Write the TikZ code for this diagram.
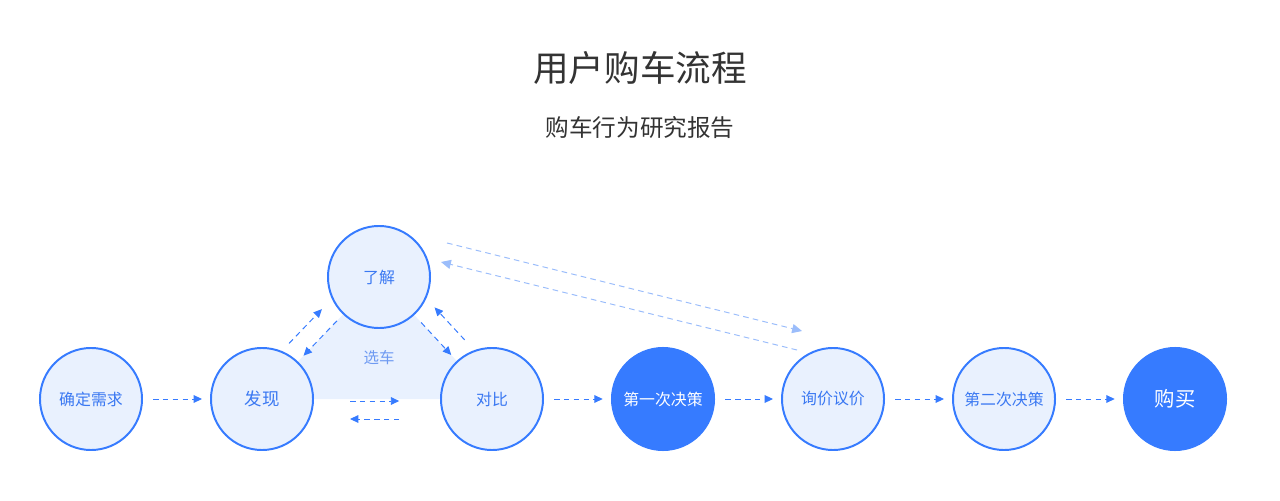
\documentclass[tikz,border=0pt]{standalone}
\usepackage{fontspec}
\setmainfont{Noto Sans CJK SC}
\usepackage{tikz}
\usetikzlibrary{arrows.meta,backgrounds}
\definecolor{mainblue}{HTML}{367BFF}
\definecolor{lightfill}{HTML}{E9F1FE}
\definecolor{textblue}{HTML}{3A78F2}
\definecolor{paleblue}{HTML}{9BBDFB}
\definecolor{labelblue}{HTML}{6E9AF2}
\definecolor{titlegray}{HTML}{333333}
\tikzset{
  stage/.style={circle,draw=mainblue,line width=1.4pt,fill=lightfill,text=textblue,minimum size=2.55cm,inner sep=0pt,font=\fontsize{11.3}{13}\selectfont},
  decide/.style={circle,fill=mainblue,text=white,minimum size=2.6cm,inner sep=0pt,font=\fontsize{11.3}{13}\selectfont},
  flow/.style={draw=mainblue,line width=0.7pt,dash pattern=on 4pt off 3pt,-{Triangle[length=6pt,width=5.5pt]}},
  farflow/.style={draw=paleblue,line width=0.7pt,dash pattern=on 4pt off 3pt,-{Triangle[length=7pt,width=6.5pt]}}
}
\begin{document}
\begin{tikzpicture}[line cap=butt,line join=round,x=0.025cm,y=0.025cm]
  \useasboundingbox (0,0) rectangle (1280,500);
  % titles
  \node[text=titlegray,font=\fontsize{25.3}{30}\selectfont] (title) at (640,432) {用户购车流程};
  \node[text=titlegray,font=\fontsize{16.8}{20}\selectfont] (subtitle) at (640,372) {购车行为研究报告};
  % stages
  \node[stage] (need) at (91,101) {确定需求};
  \node[stage,font=\fontsize{12.4}{14}\selectfont] (find) at (262,101) {发现};
  \node[stage] (know) at (379,223) {了解};
  \node[stage] (compare) at (492,101) {对比};
  \node[decide] (first) at (663,101) {第一次决策};
  \node[stage] (price) at (833,101) {询价议价};
  \node[stage] (second) at (1004,101) {第二次决策};
  \node[decide,font=\fontsize{14.5}{17}\selectfont] (buy) at (1175,101) {购买};
  % selection area
  \begin{scope}[on background layer]
    \fill[lightfill] (find.center) -- (know.center) -- (compare.center) -- cycle;
  \end{scope}
  \node[text=labelblue,font=\fontsize{11}{13}\selectfont] (select) at (379,142) {选车};
  % main flow
  \draw[flow,shorten <=0.25cm,shorten >=0.2cm] (need) -- (find);
  \draw[flow,shorten <=0.25cm,shorten >=0.2cm] (compare) -- (first);
  \draw[flow,shorten <=0.25cm,shorten >=0.2cm] (first) -- (price);
  \draw[flow,shorten <=0.25cm,shorten >=0.2cm] (price) -- (second);
  \draw[flow,shorten <=0.25cm,shorten >=0.2cm] (second) -- (buy);
  % inside the selection area
  \draw[flow,shorten <=0.9cm,shorten >=1.02cm,transform canvas={yshift=-0.05cm}] (find) -- (compare);
  \draw[flow,shorten <=1.02cm,shorten >=0.9cm,transform canvas={yshift=-0.5cm}] (compare) -- (find);
  \draw[flow,shorten <=0.22cm,shorten >=0.2cm] (know) -- (find);
  \draw[flow,shorten <=0.17cm,shorten >=0.27cm,transform canvas={shift={(-0.34cm,0.33cm)}}] (find) -- (know);
  \draw[flow,shorten <=0.25cm,shorten >=0.2cm] (know) -- (compare);
  \draw[flow,shorten <=0.25cm,shorten >=0.2cm,transform canvas={shift={(0.37cm,0.34cm)}}] (compare) -- (know);
  % back and forth with price talks
  \draw[farflow] ([shift={(16,34)}]know.east) -- ([shift={(-31,16)}]price.north);
  \draw[farflow] ([shift={(-36,-3)}]price.north) -- ([shift={(10,15)}]know.east);
\end{tikzpicture}
\end{document}
